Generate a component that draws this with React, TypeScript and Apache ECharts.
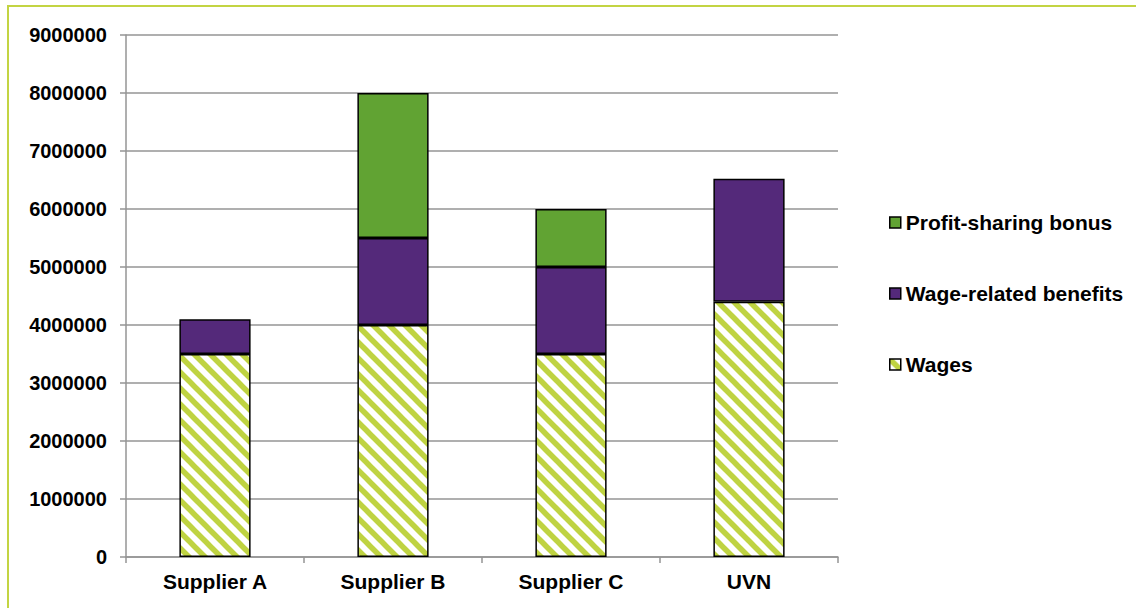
import React, { useEffect, useRef } from "react";
import * as echarts from "echarts";

// Labour cost breakdown per supplier
const categories = ["Supplier A", "Supplier B", "Supplier C", "UVN"];
const wages = [3500000, 4000000, 3500000, 4400000];
const wageRelatedBenefits = [600000, 1500000, 1500000, 2120000];
const profitSharingBonus = [0, 2500000, 1000000, 0];
const yTicks = { min: 0, max: 9000000, interval: 1000000 };

const GRID_COLOR = "#959595";
const STRIPE_COLOR = "#bfd342";

// Diagonal stripe tile used for the "Wages" segments
function makeStripeTile(): string {
  const size = 16;
  const c = document.createElement("canvas");
  c.width = size;
  c.height = size;
  const ctx = c.getContext("2d")!;
  ctx.fillStyle = "#ffffff";
  ctx.fillRect(0, 0, size, size);
  ctx.strokeStyle = STRIPE_COLOR;
  ctx.lineWidth = 5.5;
  for (let k = -1; k <= 1; k++) {
    ctx.beginPath();
    ctx.moveTo(k * size - 2, -2);
    ctx.lineTo(k * size + size + 2, size + 2);
    ctx.stroke();
  }
  return c.toDataURL();
}

export default function App() {
  const ref = useRef<HTMLDivElement>(null);

  useEffect(() => {
    if (!ref.current) return;
    const chart = echarts.init(ref.current, undefined, { renderer: "svg" });
    const stripe = { image: makeStripeTile(), repeat: "repeat" } as any;
    const font = "'Liberation Sans', Arial, sans-serif";
    const barBorder = { borderColor: "#000", borderWidth: 1.5 };

    chart.setOption({
      animation: false,
      backgroundColor: "#ffffff",
      textStyle: { fontFamily: font },
      graphic: [
        {
          type: "polyline",
          shape: { points: [[8, 700], [8, 6], [1300, 6]] },
          style: { fill: "none", stroke: "#c3d443", lineWidth: 2 },
          silent: true,
        },
      ],
      grid: { left: 126, top: 35, right: 298, bottom: 51, containLabel: false },
      legend: {
        orient: "vertical",
        left: 884,
        top: 207,
        itemGap: 50,
        itemWidth: 11,
        itemHeight: 11,
        icon: "rect",
        data: ["Profit-sharing bonus", "Wage-related benefits", "Wages"],
        textStyle: { fontSize: 21, fontWeight: "bold", color: "#000", fontFamily: font },
        itemStyle: { borderColor: "#000", borderWidth: 1.5 },
      },
      xAxis: {
        type: "category",
        data: categories,
        axisLine: { lineStyle: { color: GRID_COLOR, width: 1.5 } },
        axisTick: { show: true, length: 6, alignWithLabel: false, lineStyle: { color: GRID_COLOR, width: 1.5 } },
        axisLabel: { fontSize: 21, fontWeight: "bold", color: "#000", margin: 14, fontFamily: font },
      },
      yAxis: {
        type: "value",
        min: yTicks.min,
        max: yTicks.max,
        interval: yTicks.interval,
        axisLine: { show: true, lineStyle: { color: GRID_COLOR, width: 1.5 } },
        axisTick: { show: true, length: 6, lineStyle: { color: GRID_COLOR, width: 1.5 } },
        splitLine: { lineStyle: { color: GRID_COLOR, width: 1.5 } },
        axisLabel: {
          fontSize: 20,
          fontWeight: "bold",
          color: "#000",
          margin: 19,
          fontFamily: font,
          formatter: (v: number) => String(v),
        },
      },
      series: [
        {
          name: "Wages",
          type: "bar",
          stack: "total",
          barWidth: "40%",
          data: wages,
          itemStyle: { color: stripe, ...barBorder },
        },
        {
          name: "Wage-related benefits",
          type: "bar",
          stack: "total",
          data: wageRelatedBenefits,
          itemStyle: { color: "#54297a", ...barBorder },
        },
        {
          name: "Profit-sharing bonus",
          type: "bar",
          stack: "total",
          data: profitSharingBonus.map((v) => (v === 0 ? null : v)),
          itemStyle: { color: "#61a333", ...barBorder },
        },
      ],
    });

    return () => chart.dispose();
  }, []);

  return (
    <div
      ref={ref}
      style={{ position: "fixed", left: 0, top: 0, width: 1136, height: 608, background: "#fff" }}
    />
  );
}
